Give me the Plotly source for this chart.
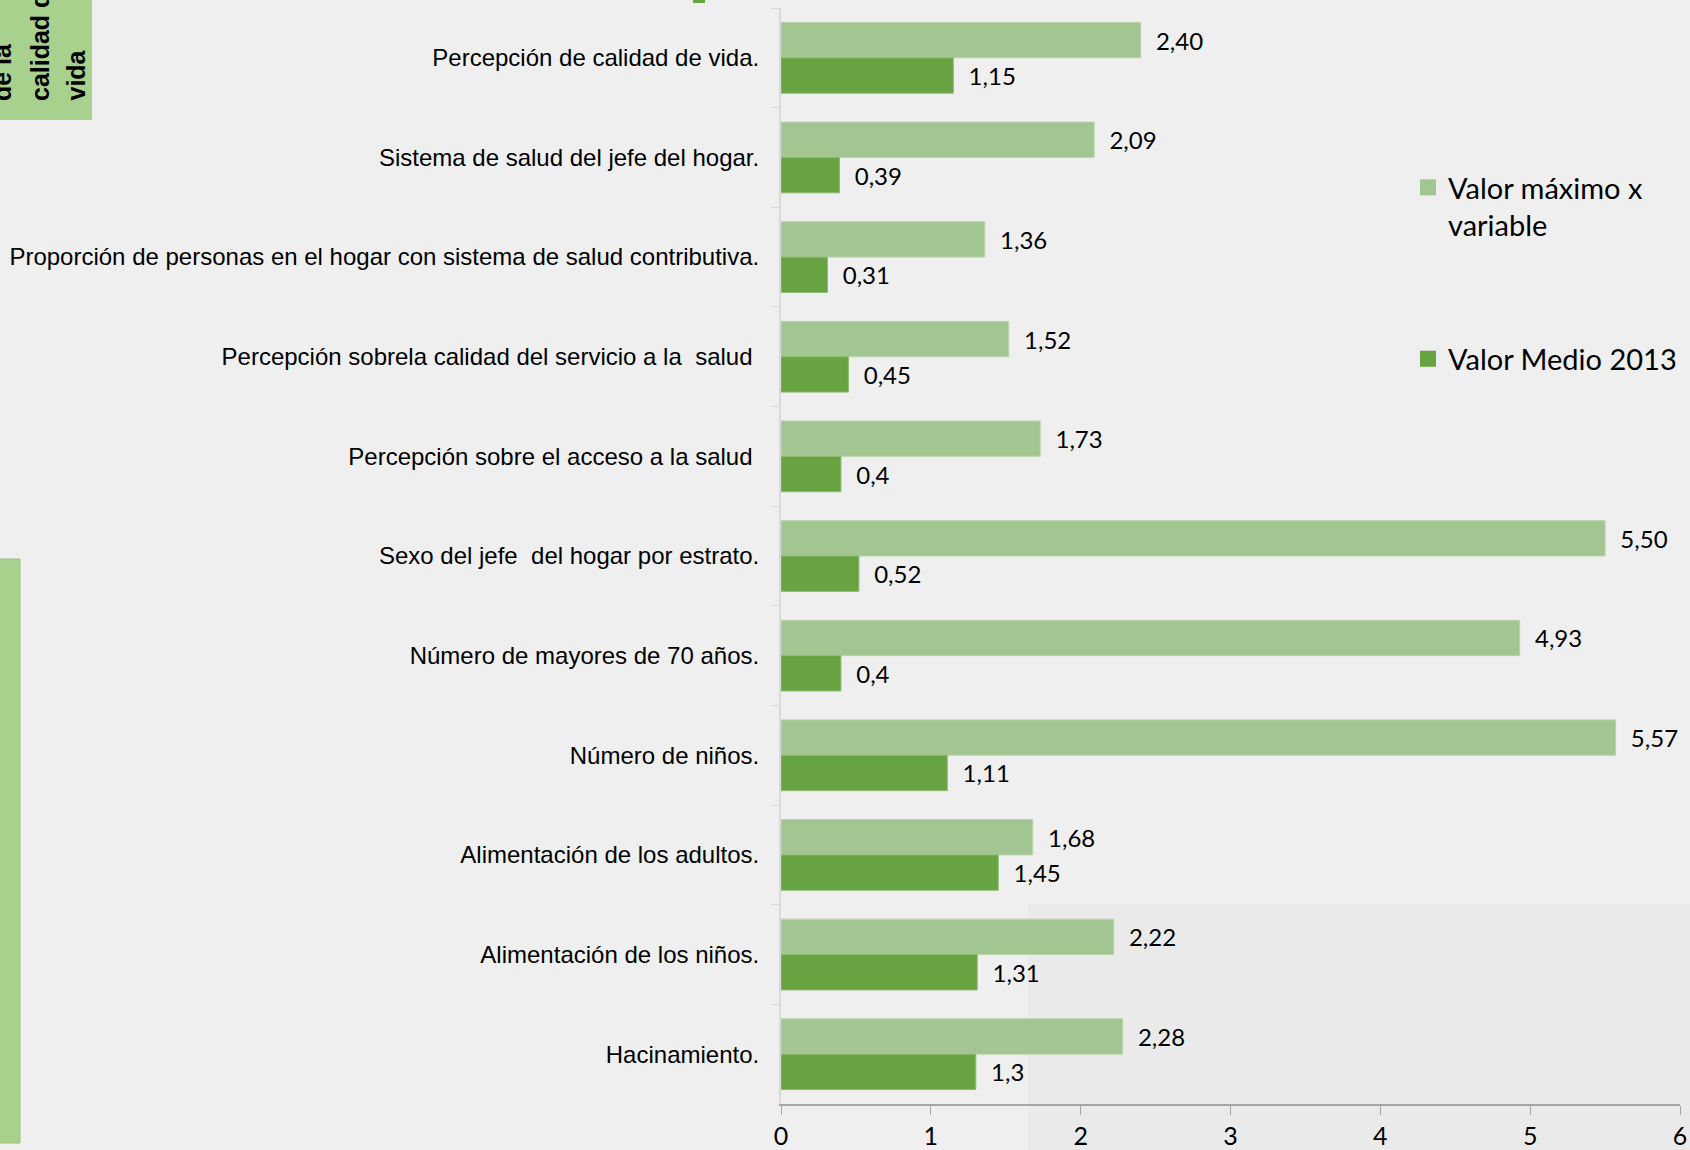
import plotly.graph_objects as go

# Data
categorias = [
    "Percepción de calidad de vida.",
    "Sistema de salud del jefe del hogar.",
    "Proporción de personas en el hogar con sistema de salud contributiva.",
    "Percepción sobrela calidad del servicio a la \u00a0salud\u00a0",
    "Percepción sobre el acceso a la salud\u00a0",
    "Sexo del jefe \u00a0del hogar por estrato.",
    "Número de mayores de 70 años.",
    "Número de niños.",
    "Alimentación de los adultos.",
    "Alimentación de los niños.",
    "Hacinamiento.",
]
valor_maximo = [2.40, 2.09, 1.36, 1.52, 1.73, 5.50, 4.93, 5.57, 1.68, 2.22, 2.28]
valor_medio = [1.15, 0.39, 0.31, 0.45, 0.4, 0.52, 0.4, 1.11, 1.45, 1.31, 1.3]
series = ["Valor máximo x<br>variable", "Valor Medio 2013"]
colores = ["#A3C592", "#68A342"]
lineas_panel = ["de la", "calidad de", "vida"]

texto_max = ["\u00a0\u00a0" + f"{v:.2f}".replace(".", ",") for v in valor_maximo]
texto_med = ["\u00a0\u00a0" + str(v).replace(".", ",") for v in valor_medio]

W, H = 1690, 1150
L, R, T, B = 781, 10, 8, 46
pw, ph = W - L - R, H - T - B


def fx(X):
    return (X - L) / pw


def fy(Y):
    return (H - B - Y) / ph


fig = go.Figure()
fig.add_trace(go.Bar(
    y=categorias, x=valor_maximo, orientation="h", name=series[0],
    marker=dict(color=colores[0], line=dict(color="#B9D4AB", width=1)),
    text=texto_max, textposition="outside", cliponaxis=False,
    textfont=dict(family="Lato", size=24, color="#000000"),
    showlegend=False,
))
fig.add_trace(go.Bar(
    y=categorias, x=valor_medio, orientation="h", name=series[1],
    marker=dict(color=colores[1], line=dict(color="#8DBB73", width=1)),
    text=texto_med, textposition="outside", cliponaxis=False,
    textfont=dict(family="Lato", size=24, color="#000000"),
    showlegend=False,
))
# legend entries with larger square keys
for nombre, color, grupo in zip(series, colores, ["a", "b"]):
    fig.add_trace(go.Scatter(
        x=[None], y=[None], mode="markers", name=nombre, legendgroup=grupo,
        marker=dict(symbol="square", size=16, color=color),
    ))

shapes = [
    # slightly darker patch in the lower right
    dict(type="rect", xref="paper", yref="paper", x0=fx(1028), x1=fx(1690), y0=fy(904), y1=fy(1150),
         fillcolor="#EAEAEA", line=dict(width=0), layer="below"),
    # green side panels
    dict(type="rect", xref="paper", yref="paper", x0=fx(-2), x1=fx(92), y0=fy(120), y1=fy(-5),
         fillcolor="#A9D18E", line=dict(width=0), layer="below"),
    dict(type="rect", xref="paper", yref="paper", x0=fx(-2), x1=fx(20), y0=fy(1143), y1=fy(559),
         fillcolor="#A9D18E", line=dict(color="#9CC47F", width=1), layer="below"),
    dict(type="rect", xref="paper", yref="paper", x0=fx(693), x1=fx(705), y0=fy(3), y1=fy(-2),
         fillcolor="#68A342", line=dict(width=0), layer="below"),
]

# rotated text in the top-left panel, one annotation per line
for linea, xc in zip(lineas_panel, [2, 40, 76]):
    fig.add_annotation(
        xref="paper", yref="paper", x=fx(xc), y=fy(103), xanchor="center", yanchor="bottom",
        text="<b>" + linea + "</b>", textangle=-90, showarrow=False,
        font=dict(family="Liberation Sans", size=25, color="#000000"),
    )

fig.update_layout(
    width=W, height=H,
    margin=dict(l=L, r=R, t=T, b=B, autoexpand=False),
    paper_bgcolor="#EFEFEF", plot_bgcolor="rgba(0,0,0,0)",
    barmode="group", bargap=0.29, bargroupgap=0,
    shapes=shapes,
    showlegend=True,
    legend=dict(
        x=fx(1408), y=fy(162), xanchor="left", yanchor="top",
        font=dict(family="Lato", size=29, color="#000000"),
        bgcolor="rgba(0,0,0,0)", valign="top", tracegroupgap=93,
        traceorder="grouped",
    ),
    xaxis=dict(
        range=[0, 6], dtick=1, showgrid=False, zeroline=False, automargin=False,
        showline=True, linecolor="#A6A6A6", linewidth=2,
        ticks="outside", ticklen=9, tickcolor="#A6A6A6",
        tickfont=dict(family="Lato", size=25, color="#000000"),
    ),
    yaxis=dict(
        autorange="reversed", showgrid=False, zeroline=False, automargin=False,
        showline=True, linecolor="#D9D9D9", linewidth=2,
        ticks="outside", ticklen=8, tickcolor="#D9D9D9", tickson="boundaries",
        tickfont=dict(family="Liberation Sans", size=24, color="#000000"),
        ticklabelstandoff=15,
    ),
)

# keep the page exactly the size of the figure
ajuste_pagina = (
    "document.documentElement.style.overflow='hidden';"
    "document.body.style.margin='0';document.body.style.padding='0';"
    "document.body.style.overflow='hidden';"
    "var g=document.getElementById('{plot_id}');"
    "g.parentElement.style.width='1690px';g.parentElement.style.height='1150px';"
    "g.parentElement.style.overflow='hidden';"
)
fig.write_html("out.html", config={"displayModeBar": False}, post_script=ajuste_pagina)
